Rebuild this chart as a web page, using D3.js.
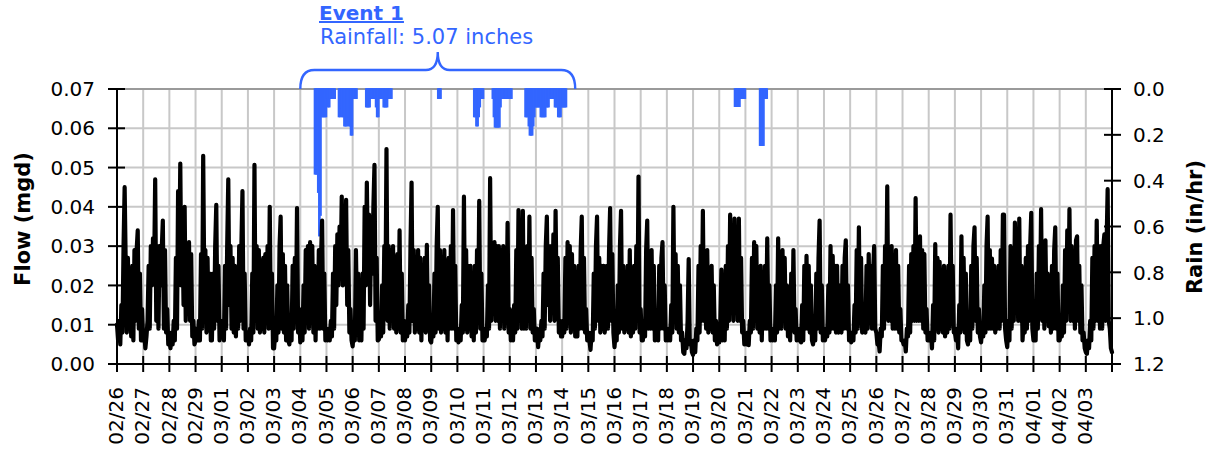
<!DOCTYPE html>
<html><head><meta charset="utf-8">
<script src="https://cdn.jsdelivr.net/npm/d3@7"></script>
<style>body{margin:0;background:#fff}svg{display:block}</style>
</head><body>
<svg id="chart" width="1216" height="455"></svg>
<script>
// ---------- DATA ----------
const dayLabels = ["02/26","02/27","02/28","02/29","03/01","03/02","03/03","03/04","03/05","03/06",
  "03/07","03/08","03/09","03/10","03/11","03/12","03/13","03/14","03/15","03/16","03/17","03/18",
  "03/19","03/20","03/21","03/22","03/23","03/24","03/25","03/26","03/27","03/28","03/29","03/30",
  "03/31","04/01","04/02","04/03"];
const flowTicks = [0,0.01,0.02,0.03,0.04,0.05,0.06,0.07];
const rainTicks = [0,0.2,0.4,0.6,0.8,1.0,1.2];

// Flow in thousand gallons/day (kgpd; 1 mgd = 1000 kgpd), one row per day, hourly values 00..23
const flowFeb = [
  [10,6,11,5,15,8,30,45,25,8,27,9,23,7,25,6,29,11,29,34,9,23,6,14],
  [6,8,4,7,11,25,9,30,20,32,23,47,11,30,9,30,20,29,36.5,9,29,8,14,5],
  [6,4,8,5,11,6,27,9,44,23,51,20,35,15,40,11,30,20,31,11,28,7,11,5],
  [6,9,6,11,6,28,9,53,20,29,8,27,9,23,6,6,23,9,30,40.5,11,25,6,11]
];
const flowMar1 = [
  [7,11,6,25,9,30,47,15,30,9,27,8,25,7,23,9,30,11,30,44,9,23,6,6],
  [8,5,9,6,23,8,50.7,11,30,9,29,8,26,9,27,8,28,11,30,9,40,11,23,4],
  [4,8,6,20,8,30,37.5,9,28,8,25,6,20,6,5,11,6,25,9,27,11,39.7,8,14],
  [5.5,9,6,20,8,29,11,30,9,31,11,30,8,25,6,23,9,29,9,27,36.5,9,23,6],
  [8,6,9,6,11,7,23,9,30,15,33,20,35,23,42.6,20,35,23,41.8,15,29,8,14,6],
  [4.5,9,6,29,11,23,6,9,6,23,9,40,20,46.2,25,38,15,34,23,40,50.7,11,27,6],
  [6.2,9,7,20,8,30,15,54.7,11,30,9,29,11,30,9,27,8,28,9,34,8,23,6,11],
  [6,9,7,15,8,30,46.2,11,29,8,27,9,29,8,27,6,25,9,27,8,30.3,9,20,6],
  [5.5,9,7,23,8,30,40,9,29,8,27,9,29,8,25,6,27,9,30,9,39.2,9,25,6],
  [8,5.5,9,6,15,8,42.6,9,29,8,25,9,25,7,23,6,25,8,29,11,41.5,9,23,6]
];
const flowMar2 = [
  [7,6,9,7,20,9,47.3,11,30,15,31,11,30,11,30,9,29,11,30,9,27,11,35.9,8],
  [14,6,9,6,15,8,29,9,39.2,11,30,9,39,9,29,9,30,11,37.5,9,27,8,14,6],
  [6,9,4.3,8,6,11,7,23,9,30,37.5,15,30,11,30,15,33,11,39,15,27,8,11,7],
  [7,11,8,27,9,31,11,30,8,28,9,25,7,11,7,25,9,29,37.5,9,27,8,14,6],
  [8,6,3.6,8,6,23,9,30,37.5,11,27,8,25,9,25,8,11,25,9,29,39.7,11,28,8],
  [4.3,8,6,20,8,30,39,9,25,8,23,9,25,8,29,7,23,8,25,9,30,11,47.7,8],
  [14,6,6,11,7,29,36.5,9,28,9,29,9,25,6,7,11,6,25,9,27,31,9,20,6],
  [8,6,9,6,15,8,40,11,28,9,25,8,20,6,8,3,2.6,6,4,11,26.7,5,6,3],
  [2.3,6,3,9,6,25,8,30,11,39,11,27,9,29,8,23,9,25,8,20,6,11,5,8],
  [5.5,11,24,6,15,6,25,9,30,11,38,15,30,11,37,15,30,11,37,11,27,8,11,5],
  [6,5,8,4.8,11,8,27,9,31,11,30,9,23,8,25,6,23,9,25,9,32,9,20,6],
  [8,6,9,6,20,8,32,9,28,9,29,11,27,9,20,7,11,6,23,9,29,8,14,6]
];
const flowMar3 = [
  [8,6,9,5.5,15,6,25,9,27.5,9,25,8,20,6,5,9,6,23,9,27,36.5,8,20,6],
  [8,6,9,7,20,8,30,9,27.5,9,25,8,25,8,9,20,8,25,9,27,31.5,9,20,6],
  [8,5.5,8,6,15,8,29,9,34.8,11,27,8,9.5,11,8,25,9,28,11,25,9,23,30,9],
  [8,5,6,3.2,9,7,25,9,30,15,45.2,11,28,11,30,9,27,9,29,9,25,8,14,6],
  [6,5,6,3.2,9,7,25,8,28,11,30,11,42.2,11,30,11,32.5,11,29,9,28,8,14,6],
  [6,6,8,4,15,6,30.5,9,27,8,26,9,23,8,25,7,20,8,25,9,38,11,25,8],
  [8,6,9,4,15,8,32.5,9,27,8,23,6,5,9,6,25,9,30,34.8,11,27,8,14,7],
  [5.5,9,7,20,8,30,37.5,9,29,9,26.8,9,25,8,23,9,25,9,29,11,38,38,9,6],
  [4.3,11,6,30,9,27,11,36,15,30,11,37,11,25,6,11,8,27,9,30,11,30,38.5,9]
];
const flowApr = [
  [6,9,6,23,9,30,15,39.4,11,30,9,31.5,11,23,9.6,15,8,25,9,29,34.8,9,23,6],
  [6,8,7,20,8,29,11,34,15,39.4,11,30,11,28,9,31.5,32.5,11,25,8,20,6,8,4],
  [3,2.6,6,4,11,6,27,9,30,11,36.5,11,30,9,30,9,30,33,11,30,44.5,11,9,4],
  [3]
];

// Rain (in/hr): runs of hourly values, each starting at the given hour
const rainRunStarts = ["03/04 13:00","03/05 11:00","03/06 12:00","03/09 06:00","03/10 15:00",
  "03/11 08:00","03/12 14:00","03/20 14:00","03/21 13:00"];
const rainRunValues = [
  [0.37,0.37,0.37,0.45,0.64,0.55,0.12,0.12,0.12,0.12,0.12,0.04,0.077,0.077,0.04,0.04,0.04,0.04,0.04],
  [0.12,0.12,0.08,0.12,0.12,0.16,0.16,0.16,0.12,0.16,0.16,0.2,0.2,0.04,0.04,0.04,0.04],
  [0.077,0.077,0.077,0.077,0.04,0.04,0.04,0.04,0.04,0.077,0.12,0.12,0.04,0.04,0.04,0.04,0.077,0.077,0.077,0.077,0.04,0.04,0.04,0.04],
  [0.04,0.04,0.04],
  [0.12,0.12,0.16,0.16,0.12,0.077,0.04,0.04,0.04],
  [0.04,0.12,0.165,0.165,0.165,0.165,0.165,0.077,0.04,0.04,0.04,0.04,0.04,0.04,0.04,0.04,0.04,0.04],
  [0.12,0.12,0.12,0.16,0.2,0.2,0.2,0.16,0.12,0.077,0.077,0.077,0.077,0.077,0.12,0.12,0.12,0.12,0.12,
   0.077,0.077,0.077,0.04,0.04,0.04,0.04,0.04,0.077,0.077,0.077,0.12,0.12,0.12,0.077,0.077,0.077,0.077,0.077],
  [0.075,0.075,0.075,0.075,0.075,0.04,0.04,0.04,0.04,0.04],
  [0.245,0.245,0.245,0.245,0.04,0.04,0.04]
];

const eventTitle = "Event 1";
const eventText = "Rainfall: 5.07 inches";
const eventSpan = ["03/04 00:00","03/14 12:00"];

// ---------- CHART ----------
const L = 117, R = 1112, T = 89, B = 364;
const blue = "#3366ff";
const parse = d3.timeParse("%Y/%m/%d %H:%M");
const P = s => parse("2024/" + s);

const svg = d3.select("#chart");
const x = d3.scaleTime().domain([P("02/26 00:00"), P("04/04 00:00")]).range([L, R]);
const yF = d3.scaleLinear().domain([0, 0.07]).range([B, T]);
const yR = d3.scaleLinear().domain([0, 1.2]).range([T, B]);

const days = d3.timeDay.range(P("02/26 00:00"), d3.timeDay.offset(P("04/04 00:00"), 1));

// grid
const grid = svg.append("g");
grid.selectAll("line.v").data(days.slice(1, -1)).join("line")
  .attr("x1", d => x(d)).attr("x2", d => x(d)).attr("y1", T).attr("y2", B)
  .attr("stroke", "#c8c8c8").attr("stroke-width", 2);
grid.selectAll("line.h").data(flowTicks.slice(1, -1)).join("line")
  .attr("x1", L).attr("x2", R).attr("y1", d => yF(d)).attr("y2", d => yF(d))
  .attr("stroke", "#c8c8c8").attr("stroke-width", 2);
grid.append("line").attr("x1", L).attr("x2", R).attr("y1", yF(0.07)).attr("y2", yF(0.07))
  .attr("stroke", "#9a9a9a").attr("stroke-width", 2);

// rain bars
const rainData = [];
rainRunStarts.forEach((s, i) => {
  const t0 = P(s);
  rainRunValues[i].forEach((v, j) => rainData.push({t: d3.timeHour.offset(t0, j), v}));
});
svg.append("g").selectAll("rect").data(rainData).join("rect")
  .attr("x", d => x(d.t))
  .attr("width", d => x(d3.timeHour.offset(d.t, 1)) - x(d.t))
  .attr("y", yR(0))
  .attr("height", d => yR(d.v) - yR(0))
  .attr("fill", blue).attr("stroke", blue).attr("stroke-width", 1.6);

// flow line
const flowRows = [...flowFeb, ...flowMar1, ...flowMar2, ...flowMar3, ...flowApr];
const flowData = [];
const f0 = P("02/26 00:00");
let idx = 0;
flowRows.forEach(row => row.forEach(v => { flowData.push({t: d3.timeHour.offset(f0, idx), v: v / 1000}); idx++; }));
svg.append("path").datum(flowData)
  .attr("d", d3.line().x(d => x(d.t)).y(d => yF(d.v)))
  .attr("fill", "none").attr("stroke", "#000").attr("stroke-width", 4.2)
  .attr("stroke-linejoin", "round").attr("stroke-linecap", "round");

// axes
const ax = svg.append("g").attr("stroke", "#000").attr("stroke-width", 2);
ax.append("line").attr("x1", L).attr("x2", L).attr("y1", T).attr("y2", B + 1);
ax.append("line").attr("x1", R).attr("x2", R).attr("y1", T).attr("y2", B + 1);
ax.append("line").attr("x1", L - 9).attr("x2", R + 9).attr("y1", B).attr("y2", B);
ax.selectAll("line.lt").data(flowTicks).join("line")
  .attr("x1", L - 9).attr("x2", L + 8).attr("y1", d => yF(d)).attr("y2", d => yF(d));
ax.selectAll("line.rt").data(rainTicks).join("line")
  .attr("x1", R - 8).attr("x2", R + 9).attr("y1", d => yR(d)).attr("y2", d => yR(d));
ax.selectAll("line.bt").data(days).join("line")
  .attr("x1", d => x(d)).attr("x2", d => x(d)).attr("y1", B - 8).attr("y2", B + 8);

const font = "'DejaVu Sans', sans-serif";
svg.append("g").selectAll("text").data(flowTicks).join("text")
  .attr("x", 95).attr("y", d => yF(d)).attr("dy", "0.36em")
  .attr("text-anchor", "end").attr("font-family", font).attr("font-size", 20)
  .text(d => d3.format(".2f")(d));
svg.append("g").selectAll("text").data(rainTicks).join("text")
  .attr("x", 1133).attr("y", d => yR(d)).attr("dy", "0.36em")
  .attr("font-family", font).attr("font-size", 20)
  .text(d => d3.format(".1f")(d));
svg.append("g").selectAll("text").data(dayLabels).join("text")
  .attr("transform", d => `translate(${x(P(d + " 00:00")) - 1},387) rotate(-90)`)
  .attr("dy", "0.36em").attr("text-anchor", "end")
  .attr("font-family", font).attr("font-size", 20)
  .text(d => d);

svg.append("text").attr("transform", "translate(30,219) rotate(-90)")
  .attr("text-anchor", "middle").attr("font-family", font).attr("font-weight", "bold")
  .attr("font-size", 21).text("Flow (mgd)");
svg.append("text").attr("transform", "translate(1202,227) rotate(-90)")
  .attr("text-anchor", "middle").attr("font-family", font).attr("font-weight", "bold")
  .attr("font-size", 21).text("Rain (in/hr)");

// event annotation (brace)
const bx0 = x(P(eventSpan[0])), bx1 = x(P(eventSpan[1])), bm = (bx0 + bx1) / 2;
const by = 70, ytop = 52, ybot = T;
svg.append("path")
  .attr("d", `M${bx0},${ybot} Q${bx0},${by} ${bx0 + 14},${by} L${bm - 12},${by} Q${bm},${by} ${bm},${ytop}` +
             ` Q${bm},${by} ${bm + 12},${by} L${bx1 - 14},${by} Q${bx1},${by} ${bx1},${ybot}`)
  .attr("fill", "none").attr("stroke", blue).attr("stroke-width", 2.4);
svg.append("text").attr("x", 319).attr("y", 20)
  .attr("font-family", font).attr("font-weight", "bold").attr("font-size", 20)
  .attr("fill", blue).attr("text-decoration", "underline").text(eventTitle);
svg.append("text").attr("x", 320).attr("y", 44)
  .attr("font-family", font).attr("font-size", 21)
  .attr("fill", blue).text(eventText);
</script>
</body></html>
